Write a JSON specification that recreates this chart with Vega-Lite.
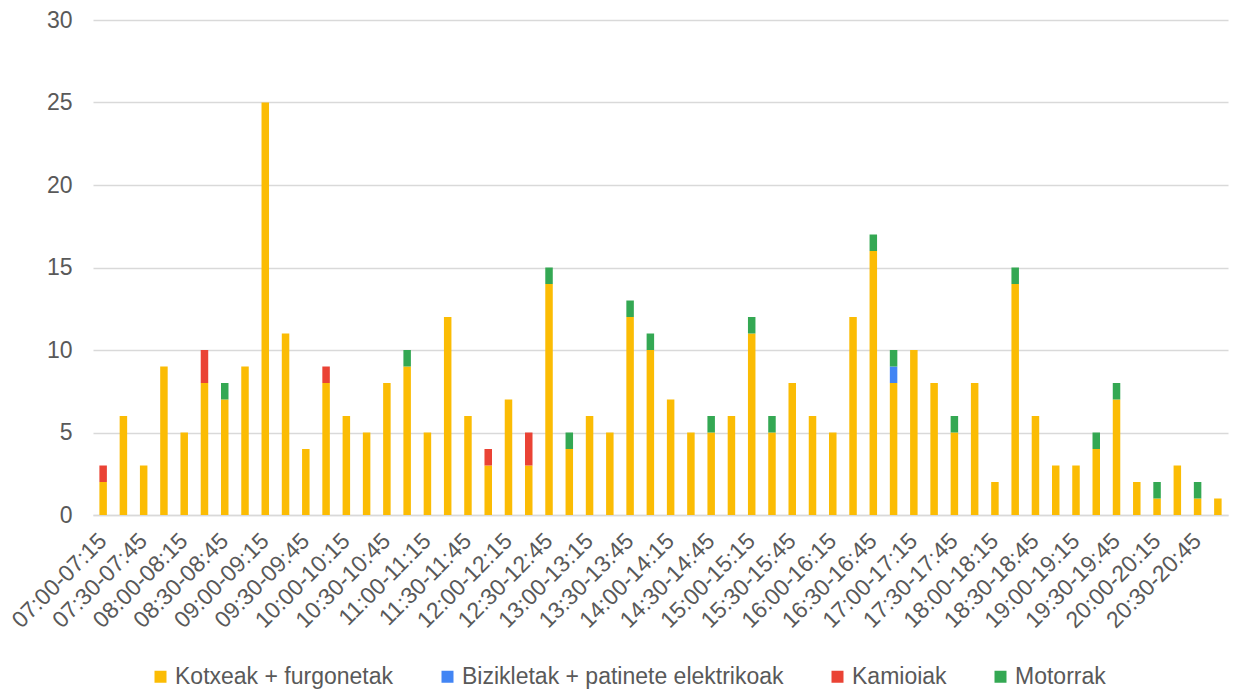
{
  "$schema": "https://vega.github.io/schema/vega-lite/v6.json",
  "width": 1135,
  "height": 495,
  "autosize": {"type": "none"},
  "padding": {"left": 93, "top": 20, "right": 7, "bottom": 176},
  "background": "white",
  "config": {
    "font": "Liberation Sans",
    "view": {"stroke": null},
    "axis": {"labelFont": "Liberation Sans", "labelColor": "#595959"},
    "legend": {"labelFont": "Liberation Sans", "labelColor": "#595959"}
  },
  "data": {
    "values": [
      {"t": "07:00-07:15", "Kotxeak + furgonetak": 2, "Bizikletak + patinete elektrikoak": 0, "Kamioiak": 1, "Motorrak": 0},
      {"t": "07:15-07:30", "Kotxeak + furgonetak": 6, "Bizikletak + patinete elektrikoak": 0, "Kamioiak": 0, "Motorrak": 0},
      {"t": "07:30-07:45", "Kotxeak + furgonetak": 3, "Bizikletak + patinete elektrikoak": 0, "Kamioiak": 0, "Motorrak": 0},
      {"t": "07:45-08:00", "Kotxeak + furgonetak": 9, "Bizikletak + patinete elektrikoak": 0, "Kamioiak": 0, "Motorrak": 0},
      {"t": "08:00-08:15", "Kotxeak + furgonetak": 5, "Bizikletak + patinete elektrikoak": 0, "Kamioiak": 0, "Motorrak": 0},
      {"t": "08:15-08:30", "Kotxeak + furgonetak": 8, "Bizikletak + patinete elektrikoak": 0, "Kamioiak": 2, "Motorrak": 0},
      {"t": "08:30-08:45", "Kotxeak + furgonetak": 7, "Bizikletak + patinete elektrikoak": 0, "Kamioiak": 0, "Motorrak": 1},
      {"t": "08:45-09:00", "Kotxeak + furgonetak": 9, "Bizikletak + patinete elektrikoak": 0, "Kamioiak": 0, "Motorrak": 0},
      {"t": "09:00-09:15", "Kotxeak + furgonetak": 25, "Bizikletak + patinete elektrikoak": 0, "Kamioiak": 0, "Motorrak": 0},
      {"t": "09:15-09:30", "Kotxeak + furgonetak": 11, "Bizikletak + patinete elektrikoak": 0, "Kamioiak": 0, "Motorrak": 0},
      {"t": "09:30-09:45", "Kotxeak + furgonetak": 4, "Bizikletak + patinete elektrikoak": 0, "Kamioiak": 0, "Motorrak": 0},
      {"t": "09:45-10:00", "Kotxeak + furgonetak": 8, "Bizikletak + patinete elektrikoak": 0, "Kamioiak": 1, "Motorrak": 0},
      {"t": "10:00-10:15", "Kotxeak + furgonetak": 6, "Bizikletak + patinete elektrikoak": 0, "Kamioiak": 0, "Motorrak": 0},
      {"t": "10:15-10:30", "Kotxeak + furgonetak": 5, "Bizikletak + patinete elektrikoak": 0, "Kamioiak": 0, "Motorrak": 0},
      {"t": "10:30-10:45", "Kotxeak + furgonetak": 8, "Bizikletak + patinete elektrikoak": 0, "Kamioiak": 0, "Motorrak": 0},
      {"t": "10:45-11:00", "Kotxeak + furgonetak": 9, "Bizikletak + patinete elektrikoak": 0, "Kamioiak": 0, "Motorrak": 1},
      {"t": "11:00-11:15", "Kotxeak + furgonetak": 5, "Bizikletak + patinete elektrikoak": 0, "Kamioiak": 0, "Motorrak": 0},
      {"t": "11:15-11:30", "Kotxeak + furgonetak": 12, "Bizikletak + patinete elektrikoak": 0, "Kamioiak": 0, "Motorrak": 0},
      {"t": "11:30-11:45", "Kotxeak + furgonetak": 6, "Bizikletak + patinete elektrikoak": 0, "Kamioiak": 0, "Motorrak": 0},
      {"t": "11:45-12:00", "Kotxeak + furgonetak": 3, "Bizikletak + patinete elektrikoak": 0, "Kamioiak": 1, "Motorrak": 0},
      {"t": "12:00-12:15", "Kotxeak + furgonetak": 7, "Bizikletak + patinete elektrikoak": 0, "Kamioiak": 0, "Motorrak": 0},
      {"t": "12:15-12:30", "Kotxeak + furgonetak": 3, "Bizikletak + patinete elektrikoak": 0, "Kamioiak": 2, "Motorrak": 0},
      {"t": "12:30-12:45", "Kotxeak + furgonetak": 14, "Bizikletak + patinete elektrikoak": 0, "Kamioiak": 0, "Motorrak": 1},
      {"t": "12:45-13:00", "Kotxeak + furgonetak": 4, "Bizikletak + patinete elektrikoak": 0, "Kamioiak": 0, "Motorrak": 1},
      {"t": "13:00-13:15", "Kotxeak + furgonetak": 6, "Bizikletak + patinete elektrikoak": 0, "Kamioiak": 0, "Motorrak": 0},
      {"t": "13:15-13:30", "Kotxeak + furgonetak": 5, "Bizikletak + patinete elektrikoak": 0, "Kamioiak": 0, "Motorrak": 0},
      {"t": "13:30-13:45", "Kotxeak + furgonetak": 12, "Bizikletak + patinete elektrikoak": 0, "Kamioiak": 0, "Motorrak": 1},
      {"t": "13:45-14:00", "Kotxeak + furgonetak": 10, "Bizikletak + patinete elektrikoak": 0, "Kamioiak": 0, "Motorrak": 1},
      {"t": "14:00-14:15", "Kotxeak + furgonetak": 7, "Bizikletak + patinete elektrikoak": 0, "Kamioiak": 0, "Motorrak": 0},
      {"t": "14:15-14:30", "Kotxeak + furgonetak": 5, "Bizikletak + patinete elektrikoak": 0, "Kamioiak": 0, "Motorrak": 0},
      {"t": "14:30-14:45", "Kotxeak + furgonetak": 5, "Bizikletak + patinete elektrikoak": 0, "Kamioiak": 0, "Motorrak": 1},
      {"t": "14:45-15:00", "Kotxeak + furgonetak": 6, "Bizikletak + patinete elektrikoak": 0, "Kamioiak": 0, "Motorrak": 0},
      {"t": "15:00-15:15", "Kotxeak + furgonetak": 11, "Bizikletak + patinete elektrikoak": 0, "Kamioiak": 0, "Motorrak": 1},
      {"t": "15:15-15:30", "Kotxeak + furgonetak": 5, "Bizikletak + patinete elektrikoak": 0, "Kamioiak": 0, "Motorrak": 1},
      {"t": "15:30-15:45", "Kotxeak + furgonetak": 8, "Bizikletak + patinete elektrikoak": 0, "Kamioiak": 0, "Motorrak": 0},
      {"t": "15:45-16:00", "Kotxeak + furgonetak": 6, "Bizikletak + patinete elektrikoak": 0, "Kamioiak": 0, "Motorrak": 0},
      {"t": "16:00-16:15", "Kotxeak + furgonetak": 5, "Bizikletak + patinete elektrikoak": 0, "Kamioiak": 0, "Motorrak": 0},
      {"t": "16:15-16:30", "Kotxeak + furgonetak": 12, "Bizikletak + patinete elektrikoak": 0, "Kamioiak": 0, "Motorrak": 0},
      {"t": "16:30-16:45", "Kotxeak + furgonetak": 16, "Bizikletak + patinete elektrikoak": 0, "Kamioiak": 0, "Motorrak": 1},
      {"t": "16:45-17:00", "Kotxeak + furgonetak": 8, "Bizikletak + patinete elektrikoak": 1, "Kamioiak": 0, "Motorrak": 1},
      {"t": "17:00-17:15", "Kotxeak + furgonetak": 10, "Bizikletak + patinete elektrikoak": 0, "Kamioiak": 0, "Motorrak": 0},
      {"t": "17:15-17:30", "Kotxeak + furgonetak": 8, "Bizikletak + patinete elektrikoak": 0, "Kamioiak": 0, "Motorrak": 0},
      {"t": "17:30-17:45", "Kotxeak + furgonetak": 5, "Bizikletak + patinete elektrikoak": 0, "Kamioiak": 0, "Motorrak": 1},
      {"t": "17:45-18:00", "Kotxeak + furgonetak": 8, "Bizikletak + patinete elektrikoak": 0, "Kamioiak": 0, "Motorrak": 0},
      {"t": "18:00-18:15", "Kotxeak + furgonetak": 2, "Bizikletak + patinete elektrikoak": 0, "Kamioiak": 0, "Motorrak": 0},
      {"t": "18:15-18:30", "Kotxeak + furgonetak": 14, "Bizikletak + patinete elektrikoak": 0, "Kamioiak": 0, "Motorrak": 1},
      {"t": "18:30-18:45", "Kotxeak + furgonetak": 6, "Bizikletak + patinete elektrikoak": 0, "Kamioiak": 0, "Motorrak": 0},
      {"t": "18:45-19:00", "Kotxeak + furgonetak": 3, "Bizikletak + patinete elektrikoak": 0, "Kamioiak": 0, "Motorrak": 0},
      {"t": "19:00-19:15", "Kotxeak + furgonetak": 3, "Bizikletak + patinete elektrikoak": 0, "Kamioiak": 0, "Motorrak": 0},
      {"t": "19:15-19:30", "Kotxeak + furgonetak": 4, "Bizikletak + patinete elektrikoak": 0, "Kamioiak": 0, "Motorrak": 1},
      {"t": "19:30-19:45", "Kotxeak + furgonetak": 7, "Bizikletak + patinete elektrikoak": 0, "Kamioiak": 0, "Motorrak": 1},
      {"t": "19:45-20:00", "Kotxeak + furgonetak": 2, "Bizikletak + patinete elektrikoak": 0, "Kamioiak": 0, "Motorrak": 0},
      {"t": "20:00-20:15", "Kotxeak + furgonetak": 1, "Bizikletak + patinete elektrikoak": 0, "Kamioiak": 0, "Motorrak": 1},
      {"t": "20:15-20:30", "Kotxeak + furgonetak": 3, "Bizikletak + patinete elektrikoak": 0, "Kamioiak": 0, "Motorrak": 0},
      {"t": "20:30-20:45", "Kotxeak + furgonetak": 1, "Bizikletak + patinete elektrikoak": 0, "Kamioiak": 0, "Motorrak": 1},
      {"t": "20:45-21:00", "Kotxeak + furgonetak": 1, "Bizikletak + patinete elektrikoak": 0, "Kamioiak": 0, "Motorrak": 0}
    ]
  },
  "transform": [
    {"fold": ["Kotxeak + furgonetak", "Bizikletak + patinete elektrikoak", "Kamioiak", "Motorrak"], "as": ["cat", "n"]},
    {"window": [{"op": "row_number", "as": "k"}], "groupby": ["t"]}
  ],
  "mark": {"type": "bar"},
  "encoding": {
    "x": {
      "field": "t",
      "type": "nominal",
      "sort": null,
      "scale": {"paddingInner": 0.63, "paddingOuter": 0.315},
      "axis": {
        "title": null,
        "labelAngle": -45,
        "labelFontSize": 23,
        "labelPadding": 22,
        "labelAlign": "right",
        "labelBaseline": "middle",
        "ticks": false,
        "domainColor": "#d9d9d9",
        "domainWidth": 1.5,
        "labelOverlap": false,
        "values": ["07:00-07:15","07:30-07:45","08:00-08:15","08:30-08:45","09:00-09:15","09:30-09:45","10:00-10:15","10:30-10:45","11:00-11:15","11:30-11:45","12:00-12:15","12:30-12:45","13:00-13:15","13:30-13:45","14:00-14:15","14:30-14:45","15:00-15:15","15:30-15:45","16:00-16:15","16:30-16:45","17:00-17:15","17:30-17:45","18:00-18:15","18:30-18:45","19:00-19:15","19:30-19:45","20:00-20:15","20:30-20:45"]
      }
    },
    "y": {
      "field": "n",
      "type": "quantitative",
      "stack": "zero",
      "scale": {"domain": [0, 30], "nice": false},
      "axis": {
        "title": null,
        "values": [0, 5, 10, 15, 20, 25, 30],
        "domain": false,
        "ticks": false,
        "labelFontSize": 23,
        "labelPadding": 21,
        "gridColor": "#d9d9d9",
        "gridWidth": 1.5
      }
    },
    "color": {
      "field": "cat",
      "type": "nominal",
      "sort": ["Kotxeak + furgonetak", "Bizikletak + patinete elektrikoak", "Kamioiak", "Motorrak"],
      "scale": {
        "domain": ["Kotxeak + furgonetak", "Bizikletak + patinete elektrikoak", "Kamioiak", "Motorrak"],
        "range": ["#FBBC04", "#4285F4", "#EA4335", "#34A853"]
      },
      "legend": {
        "title": null,
        "orient": "none",
        "direction": "horizontal",
        "legendX": 56,
        "legendY": 645,
        "symbolType": "square",
        "symbolSize": 144,
        "symbolStrokeWidth": 0,
        "labelFontSize": 23,
        "labelOffset": 3,
        "columnPadding": 42,
        "labelLimit": 500
      }
    },
    "order": {"field": "k", "type": "quantitative", "sort": "ascending"}
  }
}
